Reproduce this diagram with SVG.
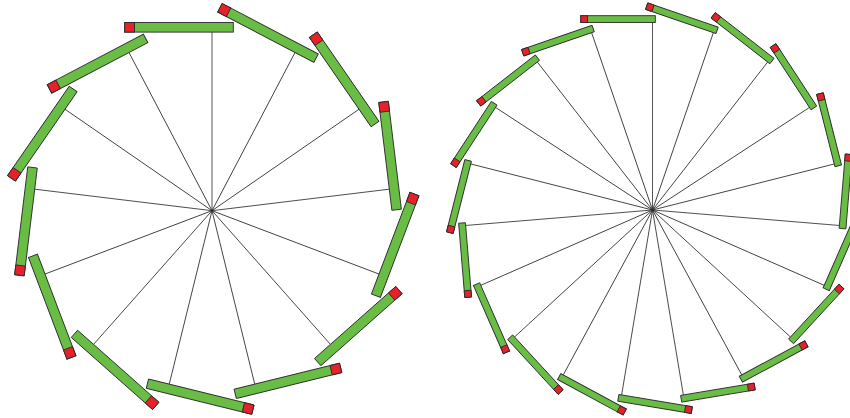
<svg xmlns="http://www.w3.org/2000/svg" xmlns:xlink="http://www.w3.org/1999/xlink" width="850" height="418" viewBox="0 0 850 418">
<style>
.bar{fill:#69bd45;stroke:#2b2b2b;stroke-width:0.9}
.cap{fill:#e8202a;stroke:#2b2b2b;stroke-width:0.9}
.spoke{stroke:#2b2b2b;stroke-width:0.8;fill:none}
</style>
<defs>
<g id="barL"><rect class="bar" x="-87.3" y="-188.2" width="108.6" height="9.6"/><rect class="cap" x="-87.3" y="-188.2" width="9.8" height="9.6"/></g>
<g id="barR"><rect class="bar" x="-71.7" y="-194.3" width="74.5" height="6.8"/><rect class="cap" x="-71.7" y="-194.3" width="6.8" height="6.8"/></g>
<line id="spokeL" class="spoke" x1="0" y1="0" x2="0" y2="-178.6"/>
<line id="spokeR" class="spoke" x1="0" y1="0" x2="0" y2="-187.5"/>
</defs>
<g id="connectors">
<g transform="translate(212,210.7)">
<use xlink:href="#spokeL" transform="rotate(0)"/>
<use xlink:href="#spokeL" transform="rotate(27.692)"/>
<use xlink:href="#spokeL" transform="rotate(55.385)"/>
<use xlink:href="#spokeL" transform="rotate(83.077)"/>
<use xlink:href="#spokeL" transform="rotate(110.769)"/>
<use xlink:href="#spokeL" transform="rotate(138.462)"/>
<use xlink:href="#spokeL" transform="rotate(166.154)"/>
<use xlink:href="#spokeL" transform="rotate(193.846)"/>
<use xlink:href="#spokeL" transform="rotate(221.538)"/>
<use xlink:href="#spokeL" transform="rotate(249.231)"/>
<use xlink:href="#spokeL" transform="rotate(276.923)"/>
<use xlink:href="#spokeL" transform="rotate(304.615)"/>
<use xlink:href="#spokeL" transform="rotate(332.308)"/>
</g>
<g transform="translate(652.5,210)">
<use xlink:href="#spokeR" transform="rotate(0)"/>
<use xlink:href="#spokeR" transform="rotate(18.947)"/>
<use xlink:href="#spokeR" transform="rotate(37.895)"/>
<use xlink:href="#spokeR" transform="rotate(56.842)"/>
<use xlink:href="#spokeR" transform="rotate(75.789)"/>
<use xlink:href="#spokeR" transform="rotate(94.737)"/>
<use xlink:href="#spokeR" transform="rotate(113.684)"/>
<use xlink:href="#spokeR" transform="rotate(132.632)"/>
<use xlink:href="#spokeR" transform="rotate(151.579)"/>
<use xlink:href="#spokeR" transform="rotate(170.526)"/>
<use xlink:href="#spokeR" transform="rotate(189.474)"/>
<use xlink:href="#spokeR" transform="rotate(208.421)"/>
<use xlink:href="#spokeR" transform="rotate(227.368)"/>
<use xlink:href="#spokeR" transform="rotate(246.316)"/>
<use xlink:href="#spokeR" transform="rotate(265.263)"/>
<use xlink:href="#spokeR" transform="rotate(284.211)"/>
<use xlink:href="#spokeR" transform="rotate(303.158)"/>
<use xlink:href="#spokeR" transform="rotate(322.105)"/>
<use xlink:href="#spokeR" transform="rotate(341.053)"/>
</g>
</g>
<g id="left-wheel" transform="translate(212,210.7)">
<g id="L1" transform="rotate(0)"><use xlink:href="#barL"/></g>
<g id="L2" transform="rotate(27.692)"><use xlink:href="#barL"/></g>
<g id="L3" transform="rotate(55.385)"><use xlink:href="#barL"/></g>
<g id="L4" transform="rotate(83.077)"><use xlink:href="#barL"/></g>
<g id="L5" transform="rotate(110.769)"><use xlink:href="#barL"/></g>
<g id="L6" transform="rotate(138.462)"><use xlink:href="#barL"/></g>
<g id="L7" transform="rotate(166.154)"><use xlink:href="#barL"/></g>
<g id="L8" transform="rotate(193.846)"><use xlink:href="#barL"/></g>
<g id="L9" transform="rotate(221.538)"><use xlink:href="#barL"/></g>
<g id="L10" transform="rotate(249.231)"><use xlink:href="#barL"/></g>
<g id="L11" transform="rotate(276.923)"><use xlink:href="#barL"/></g>
<g id="L12" transform="rotate(304.615)"><use xlink:href="#barL"/></g>
<g id="L13" transform="rotate(332.308)"><use xlink:href="#barL"/></g>
</g>
<g id="right-wheel" transform="translate(652.5,210)">
<g id="R1" transform="rotate(0)"><use xlink:href="#barR"/></g>
<g id="R2" transform="rotate(18.947)"><use xlink:href="#barR"/></g>
<g id="R3" transform="rotate(37.895)"><use xlink:href="#barR"/></g>
<g id="R4" transform="rotate(56.842)"><use xlink:href="#barR"/></g>
<g id="R5" transform="rotate(75.789)"><use xlink:href="#barR"/></g>
<g id="R6" transform="rotate(94.737)"><use xlink:href="#barR"/></g>
<g id="R7" transform="rotate(113.684)"><use xlink:href="#barR"/></g>
<g id="R8" transform="rotate(132.632)"><use xlink:href="#barR"/></g>
<g id="R9" transform="rotate(151.579)"><use xlink:href="#barR"/></g>
<g id="R10" transform="rotate(170.526)"><use xlink:href="#barR"/></g>
<g id="R11" transform="rotate(189.474)"><use xlink:href="#barR"/></g>
<g id="R12" transform="rotate(208.421)"><use xlink:href="#barR"/></g>
<g id="R13" transform="rotate(227.368)"><use xlink:href="#barR"/></g>
<g id="R14" transform="rotate(246.316)"><use xlink:href="#barR"/></g>
<g id="R15" transform="rotate(265.263)"><use xlink:href="#barR"/></g>
<g id="R16" transform="rotate(284.211)"><use xlink:href="#barR"/></g>
<g id="R17" transform="rotate(303.158)"><use xlink:href="#barR"/></g>
<g id="R18" transform="rotate(322.105)"><use xlink:href="#barR"/></g>
<g id="R19" transform="rotate(341.053)"><use xlink:href="#barR"/></g>
</g>
</svg>
